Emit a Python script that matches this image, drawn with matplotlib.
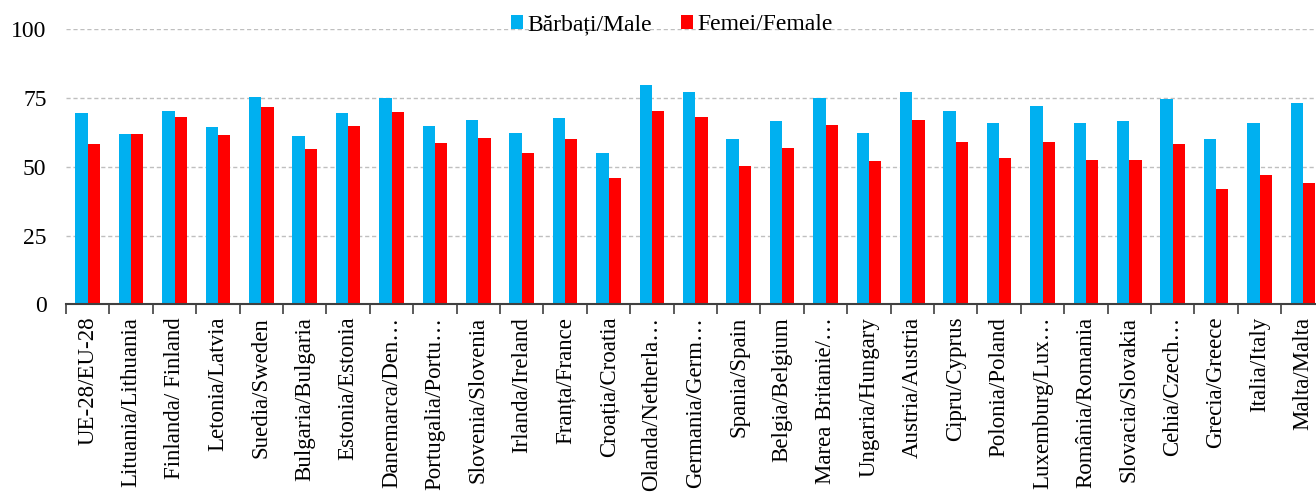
import numpy as np
from matplotlib import pyplot as plt

plt.rcParams['font.family'] = ['Liberation Serif', 'DejaVu Serif']

countries = [
    'UE-28/EU-28', 'Lituania/Lithuania', 'Finlanda/ Finland', 'Letonia/Latvia',
    'Suedia/Sweden', 'Bulgaria/Bulgaria', 'Estonia/Estonia', 'Danemarca/Den…',
    'Portugalia/Portu…', 'Slovenia/Slovenia', 'Irlanda/Ireland', 'Franța/France',
    'Croația/Croatia', 'Olanda/Netherla…', 'Germania/Germ…', 'Spania/Spain',
    'Belgia/Belgium', 'Marea Britanie/…', 'Ungaria/Hungary', 'Austria/Austria',
    'Cipru/Cyprus', 'Polonia/Poland', 'Luxemburg/Lux…', 'România/Romania',
    'Slovacia/Slovakia', 'Cehia/Czech…', 'Grecia/Greece', 'Italia/Italy',
    'Malta/Malta',
]
male = [69.5, 61.9, 70.3, 64.4, 75.5, 61.1, 69.5, 75.0, 64.7, 67.0,
        62.4, 67.6, 54.9, 79.6, 77.3, 60.1, 66.5, 74.9, 62.4, 77.3,
        70.3, 66.0, 72.1, 66.0, 66.5, 74.5, 60.0, 66.0, 73.1]
female = [58.2, 61.9, 68.0, 61.5, 71.7, 56.4, 64.7, 69.8, 58.7, 60.6,
          54.9, 60.0, 46.0, 70.3, 68.0, 50.3, 56.7, 65.1, 52.1, 67.0,
          59.1, 53.1, 59.1, 52.6, 52.6, 58.2, 41.8, 47.0, 44.2]
series_names = ['Bărbați/Male', 'Femei/Female']
colors = ['#00B0F0', '#FF0000']

fig = plt.figure(figsize=(13.16, 5.0), dpi=100)
# axes runs past the right edge, like the cropped original
ax = fig.add_axes([66 / 1316, 195.7 / 500, 1258.6 / 1316, 275 / 500])

x = np.arange(len(countries))
w = 0.285
ax.bar(x - w / 2, male, w, color=colors[0], label=series_names[0], zorder=3)
ax.bar(x + w / 2, female, w, color=colors[1], label=series_names[1], zorder=3)

ax.set_xlim(-0.5, len(countries) - 0.5)
ax.set_ylim(0, 100)
ax.set_yticks([0, 25, 50, 75, 100])
ax.tick_params(axis='y', length=0, labelsize=17, pad=14)
ax.yaxis.grid(True, linestyle=(0, (3, 2)), color='#BFBFBF', linewidth=1, zorder=0)

ax.set_xticks(x)
ax.set_xticklabels(countries, rotation=90, va='top', ha='center')
ax.tick_params(axis='x', length=0, labelsize=16.5, pad=9)
ax.set_xticks(np.arange(-0.5, len(countries), 1), minor=True)
ax.tick_params(axis='x', which='minor', length=7, width=1.2, color='#404040')

for side in ['left', 'right', 'top']:
    ax.spines[side].set_visible(False)
ax.spines['bottom'].set_color('#404040')
ax.spines['bottom'].set_linewidth(1.5)
ax.spines['bottom'].set_zorder(4)

fig.legend(loc='center', bbox_to_anchor=(672 / 1316, 1 - 25 / 500), ncol=2, frameon=False,
           fontsize=17, handlelength=0.5, handleheight=0.55, handletextpad=0.2,
           columnspacing=1.2)

fig.savefig('out.png', dpi=100)
